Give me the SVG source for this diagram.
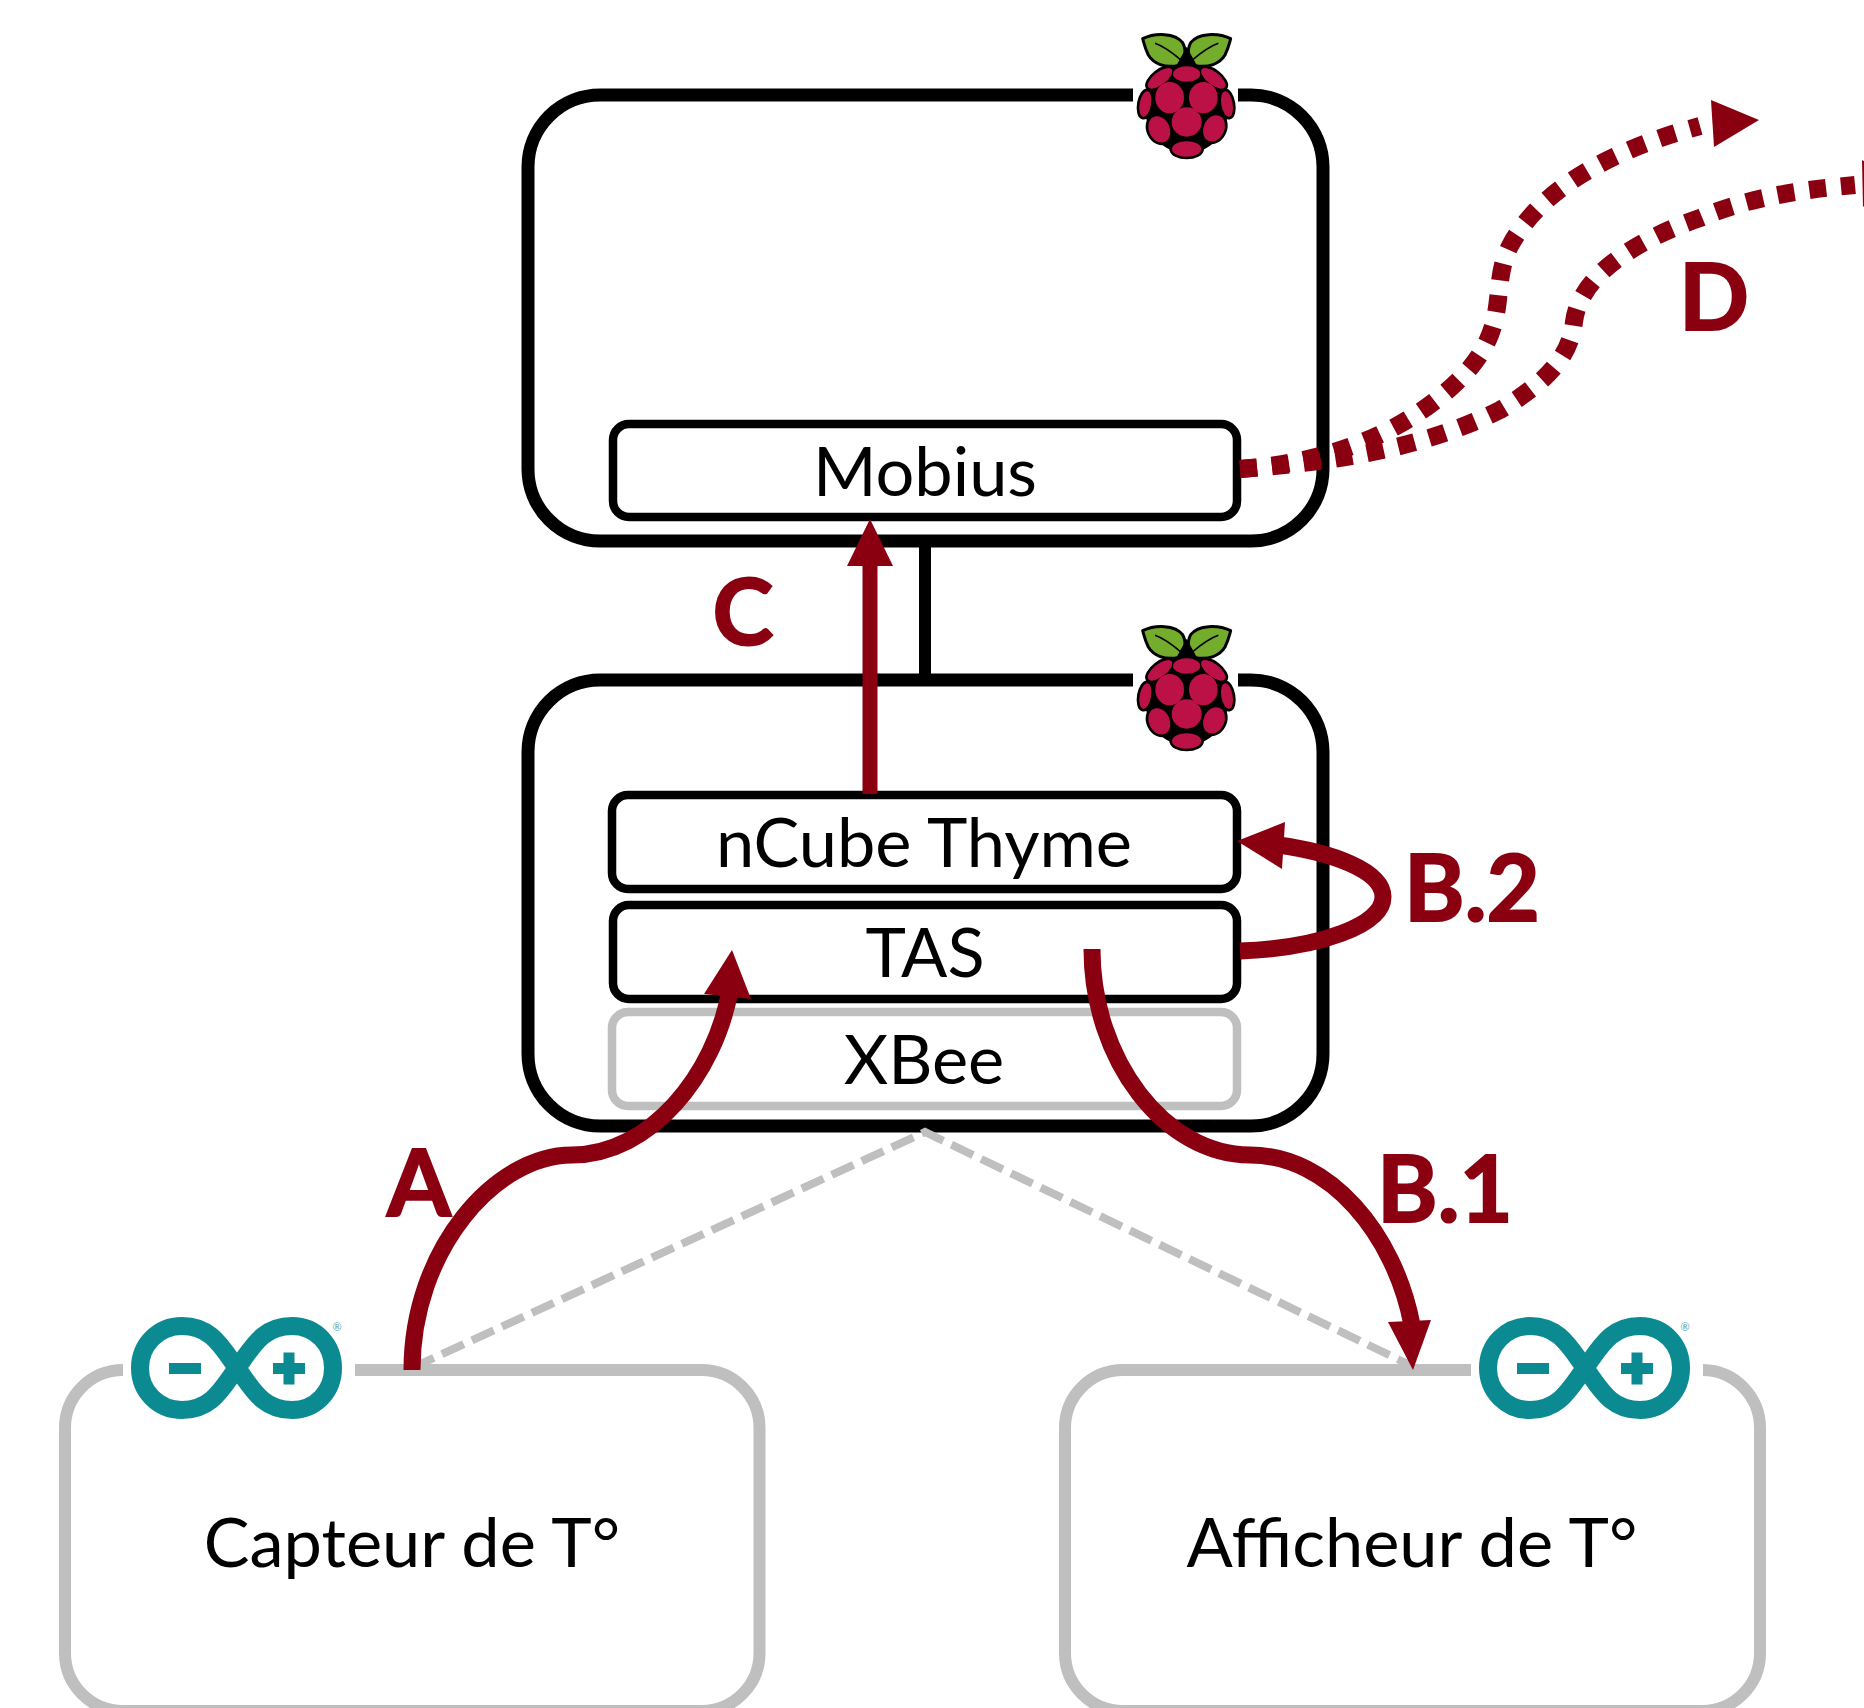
<svg xmlns="http://www.w3.org/2000/svg" xmlns:xlink="http://www.w3.org/1999/xlink" width="1864" height="1708" viewBox="0 0 1864 1708">
<style>
text{font-family:Lato,"Liberation Sans",sans-serif}
.t{font-size:68.500px;fill:#000;text-anchor:middle}
.l{font-size:92px;font-weight:700;fill:#8a0010;stroke:#8a0010;stroke-width:2;text-anchor:middle}
.big{fill:none;stroke:#000;stroke-width:13}
.gbig{fill:none;stroke:#bfbfbf;stroke-width:12}
.in{fill:#fff;stroke:#000;stroke-width:8.500}
.gin{fill:#fff;stroke:#bfbfbf;stroke-width:8.500}
.link{fill:none;stroke:#000;stroke-width:12}
.c{fill:none;stroke:#8a0010;stroke-width:17}
.c2{fill:none;stroke:#8a0010;stroke-width:15}
.d{fill:none;stroke:#8a0010;stroke-width:18;stroke-dasharray:17 15}
.h{fill:#8a0010}
.dash{fill:none;stroke:#bfbfbf;stroke-width:8;stroke-dasharray:24 9}
.berry{fill:#bc1146}
.leaf{fill:#74ad2b;stroke:#000;stroke-width:9;stroke-linejoin:round}
.vein{fill:none;stroke:#000;stroke-width:5}
.teal{fill:#0b8a92}
</style>
<defs>
<g id="berries">
<ellipse class="berry" cx="260" cy="222" rx="41" ry="23"/>
<ellipse class="berry" cx="180" cy="235" rx="44" ry="19" transform="rotate(-38 180 235)"/>
<ellipse class="berry" cx="340" cy="235" rx="44" ry="19" transform="rotate(38 340 235)"/>
<ellipse class="berry" cx="209" cy="293" rx="43" ry="47"/>
<ellipse class="berry" cx="310" cy="293" rx="43" ry="47"/>
<ellipse class="berry" cx="260" cy="366" rx="45" ry="44"/>
<ellipse class="berry" cx="136" cy="312" rx="17" ry="39" transform="rotate(10 136 312)"/>
<ellipse class="berry" cx="381" cy="312" rx="17" ry="39" transform="rotate(-10 381 312)"/>
<ellipse class="berry" cx="178" cy="388" rx="31" ry="41" transform="rotate(-25 178 388)"/>
<ellipse class="berry" cx="342" cy="385" rx="31" ry="41" transform="rotate(25 342 385)"/>
<ellipse class="berry" cx="260" cy="447" rx="44" ry="23"/>
</g>
<g id="rpi">
<ellipse cx="260" cy="325" rx="125" ry="135" fill="#000"/>
<use xlink:href="#berries" href="#berries" stroke="#000" stroke-width="16"/>
<path class="leaf" d="M128 116 C165 98 225 98 248 128 C260 150 256 178 236 196 C195 206 160 190 145 165 C135 145 132 130 128 116 Z"/>
<path class="leaf" d="M392 116 C355 98 295 98 272 128 C260 150 264 178 284 196 C325 206 360 190 375 165 C385 145 388 130 392 116 Z"/>
<path d="M260 140 L290 195 L230 195 Z" fill="#000"/>
<path class="vein" d="M165 130 C195 140 225 165 245 182"/>
<path class="vein" d="M355 130 C325 140 295 165 275 182"/>
<use xlink:href="#berries" href="#berries"/>
</g>
<g id="ard">
<path d="M237 1368 C222 1348 212 1326 182 1326 C158 1326 140 1345 140 1368 C140 1391 158 1410 182 1410 C212 1410 222 1388 237 1368 C252 1348 262 1326 292 1326 C316 1326 333 1345 333 1368 C333 1391 316 1410 292 1410 C262 1410 252 1388 237 1368 Z" fill="none" stroke="#0b8a92" stroke-width="18"/>
<rect class="teal" x="169" y="1363" width="32" height="11"/>
<rect class="teal" x="273" y="1363" width="32" height="11"/>
<rect class="teal" x="283.500" y="1352.500" width="11" height="32"/>
<text x="337" y="1331" font-size="11" fill="#5a9ea6" text-anchor="middle">®</text>
</g>
</defs>

<g id="node-top">
<path class="big" d="M1133 95 H600 a72 72 0 0 0 -72 72 V469 a72 72 0 0 0 72 72 H1251 a72 72 0 0 0 72 -72 V167 a72 72 0 0 0 -72 -72 H1238"/>
<use xlink:href="#rpi" href="#rpi" transform="translate(1100 0) scale(.33333)"/>
</g>
<g id="node-mobius">
<rect class="in" x="613" y="424" width="624" height="93" rx="16"/>
<text class="t" x="925" y="496">Mobius</text>
</g>
<g id="node-bottom">
<path class="big" d="M1133 680 H600 a72 72 0 0 0 -72 72 V1054 a72 72 0 0 0 72 72 H1251 a72 72 0 0 0 72 -72 V752 a72 72 0 0 0 -72 -72 H1238"/>
<use xlink:href="#rpi" href="#rpi" transform="translate(1100 592) scale(.33333)"/>
</g>
<g id="node-ncube">
<rect class="in" x="612" y="795" width="625" height="94" rx="16"/>
<text class="t" x="924" y="867">nCube Thyme</text>
</g>
<g id="node-tas">
<rect class="in" x="613" y="905" width="624" height="94" rx="16"/>
<text class="t" x="925" y="977">TAS</text>
</g>
<g id="node-xbee">
<rect class="gin" x="612" y="1012" width="625" height="94" rx="16"/>
<text class="t" x="924" y="1084">XBee</text>
</g>
<g id="node-capteur">
<path class="gbig" d="M123 1370 a58 58 0 0 0 -58 58 V1653 a58 58 0 0 0 58 58 H701.500 a58 58 0 0 0 58 -58 V1428 a58 58 0 0 0 -58 -58 H355"/>
<use xlink:href="#ard" href="#ard"/>
<text class="t" x="412" y="1567">Capteur de T°</text>
</g>
<g id="node-afficheur">
<path class="gbig" d="M1471 1370 H1123 a58 58 0 0 0 -58 58 V1653 a58 58 0 0 0 58 58 H1702 a58 58 0 0 0 58 -58 V1428 a58 58 0 0 0 -57 -58"/>
<use xlink:href="#ard" href="#ard" transform="translate(1348 0)"/>
<text class="t" x="1412" y="1567">Afficheur de T°</text>
</g>

<g id="connectors">
<path class="link" d="M925 541 V680"/>
<path class="dash" d="M412 1368 L925 1132 L1410 1365"/>
<path class="c2" d="M870 794 V560"/>
<polygon class="h" points="870,519 847,566 893,566"/>
<path class="c" d="M412 1370 C412 1250 495 1155 572 1155 C650 1155 715 1075 730 990"/>
<polygon class="h" points="732,950 704,994 751,999"/>
<path class="c" d="M1092 949 C1092 1060 1165 1155 1250 1155 C1330 1155 1395 1235 1412 1325"/>
<polygon class="h" points="1413,1370 1388,1322 1431,1320"/>
<path class="c" d="M1240 951 C1320 948 1383 925 1383 897 C1383 870 1330 852 1278 845"/>
<polygon class="h" points="1237,841 1285,822 1282,869"/>
<path class="d" d="M1240 469 C1340 462 1420 425 1470 368 C1510 320 1490 285 1510 246 C1545 180 1630 145 1700 126"/>
<polygon class="h" points="1759,120 1711,100 1714,147"/>
<path class="d" d="M1240 469 C1330 462 1420 450 1500 410 C1550 380 1570 355 1574 322 C1580 270 1650 235 1700 218 C1750 197 1800 190 1855 185"/>
<polygon class="h" points="1890,178 1862,160 1863,207"/>
</g>

<g id="labels">
<text class="l" x="419" y="1216">A</text>
<text class="l" x="1445" y="1222">B.1</text>
<text class="l" x="1472" y="921">B.2</text>
<text class="l" x="743" y="645">C</text>
<text class="l" x="1714" y="330">D</text>
</g>
</svg>
